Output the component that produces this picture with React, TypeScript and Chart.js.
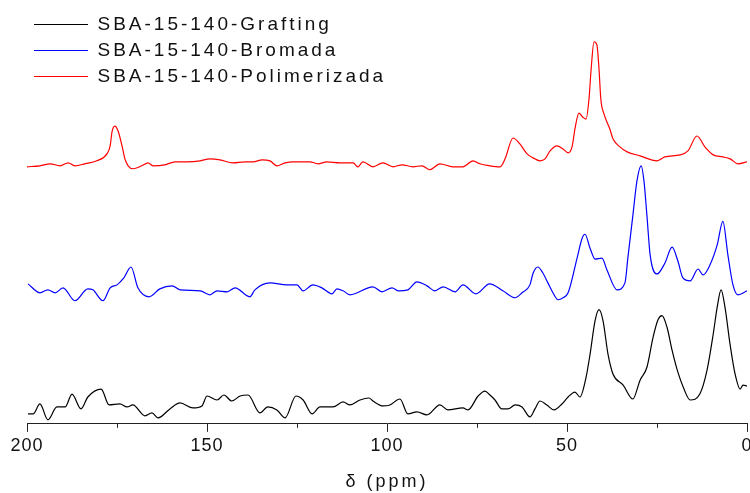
import { useEffect, useRef } from "react";
import { Chart, registerables } from "chart.js";

Chart.register(...registerables);

// 13C CP-MAS NMR spectra, stacked vertically (intensity in a.u., offset per sample)
const seriesLabels = [
  "SBA-15-140-Grafting",
  "SBA-15-140-Bromada",
  "SBA-15-140-Polimerizada",
];
const seriesColors = ["#000000", "#0000ff", "#ff0000"];

const graftingPpm = [
  199.7, 198.3, 196.4, 194.2, 191.7, 189.4, 187.5, 185.0, 183.1, 179.4, 177.2, 174.2, 172.2, 170.6,
  167.2, 165.3, 163.6, 160.3, 157.5, 153.9, 151.4, 150.0, 147.2, 145.3, 143.1, 140.8, 138.6, 135.3,
  133.1, 130.6, 128.3, 125.3, 123.3, 120.8, 118.6, 115.0, 112.2, 110.3, 107.5, 105.0, 103.9, 101.1,
  99.2, 96.4, 94.2, 91.7, 88.9, 85.3, 83.1, 78.9, 77.5, 74.7, 72.8, 71.4, 70.0, 68.1, 66.4, 64.4,
  62.5, 60.3, 58.9, 57.5, 55.6, 53.6, 51.4, 49.7, 47.8, 46.4, 44.7, 43.6, 42.2, 41.1, 40.0, 38.6,
  37.2, 34.4, 31.7, 29.7, 27.8, 26.1, 24.7, 23.6, 22.2, 20.8, 19.2, 17.5, 15.8, 13.1, 11.1, 9.4,
  8.3, 7.2, 6.1, 4.7, 3.3, 1.9, 1.1, 0,
];
const graftingIntensity = [
  10, 10, 20, 4, 17, 17, 30, 15, 27, 35, 19, 20, 17, 19,
  8, 11, 6, 15, 21, 16, 18, 28, 24, 29, 23, 28, 29, 11,
  17, 14, 6, 28, 24, 10, 17, 17, 22, 19, 24, 26, 23, 18,
  19, 25, 10, 12, 9, 19, 14, 16, 14, 28, 33, 29, 24, 15, 15, 19,
  17, 7, 15, 23, 19, 14, 20, 27, 32, 27, 47, 70, 104, 115, 104, 70,
  50, 39, 25, 44, 57, 87, 105, 109, 97, 74, 52, 35, 24, 30, 54, 90,
  117, 135, 117, 80, 50, 35, 39, 38,
];

const bromadaPpm = [
  199.7, 196.4, 194.2, 192.2, 190.0, 186.7, 183.1, 181.7, 178.9, 176.9, 175.0, 173.1, 171.1, 169.2,
  166.1, 163.1, 159.7, 157.5, 151.9, 149.2, 147.2, 144.4, 142.2, 138.1, 136.7, 132.5, 127.8, 125.0,
  123.3, 120.6, 118.1, 115.3, 113.9, 112.2, 110.3, 103.9, 101.4, 98.6, 96.9, 94.2, 91.7, 88.9,
  86.7, 84.4, 81.1, 78.9, 75.3, 71.5, 67.8, 64.4, 62.5, 60.3, 59.4, 58.1, 56.7, 55.3, 53.9, 52.5,
  51.1, 49.7, 47.2, 45.8, 45.0, 43.6, 42.2, 40.3, 38.9, 36.1, 33.9, 33.1, 31.7, 30.6, 29.4, 28.6,
  27.8, 26.9, 25.0, 22.8, 20.8, 19.2, 17.8, 15.8, 13.6, 12.2, 10.3, 8.3, 6.7, 5.3, 3.9, 2.5, 0,
];
const bromadaIntensity = [
  141, 132, 135, 132, 137, 124, 136, 135, 124, 137, 140, 147, 158, 137,
  128, 136, 139, 135, 134, 130, 134, 133, 137, 128, 135, 142, 140, 140,
  134, 140, 137, 131, 136, 134, 130, 138, 133, 137, 134, 135, 143, 139,
  134, 138, 133, 140, 131, 141, 134, 127, 132, 140, 152, 158, 152, 142, 132, 125,
  127, 132, 167, 187, 191, 177, 166, 167, 155, 135, 142, 167, 210, 244, 260, 244,
  210, 170, 151, 162, 178, 164, 147, 144, 156, 150, 160, 180, 204, 170, 140, 130, 134,
];

const polimerizadaPpm = [
  200.0, 196.4, 193.6, 190.8, 188.6, 186.7, 183.9, 180.6, 177.8, 176.9, 176.4, 175.6, 174.7, 173.6,
  172.8, 171.9, 170.6, 168.1, 166.4, 165.0, 161.7, 158.9, 155.6, 151.9, 149.2, 146.4, 142.8, 139.4,
  137.2, 134.7, 132.5, 130.6, 128.3, 126.1, 121.4, 119.2, 116.7, 113.1, 109.4, 108.1, 106.7, 103.9,
  101.1, 98.3, 95.8, 92.8, 90.3, 88.1, 85.3, 81.7, 78.9, 76.1, 74.2, 71.4, 68.6, 67.2, 65.0, 63.1,
  61.1, 58.9, 57.5, 56.1, 54.7, 52.8, 51.1, 49.7, 48.6, 47.8, 46.7, 45.6, 44.7, 43.9, 43.3, 42.5,
  41.7, 41.1, 40.6, 39.7, 38.1, 37.2, 35.3, 33.3, 29.7, 25.0, 22.8, 18.6, 16.4, 13.9, 11.7, 9.4,
  6.7, 4.7, 2.5, 0,
];
const polimerizadaIntensity = [
  259, 260, 262, 260, 263, 260, 262, 265, 272, 280, 294, 300, 295, 280,
  267, 260, 257, 260, 263, 260, 261, 264, 264, 265, 267, 266, 263, 264,
  264, 266, 265, 260, 263, 264, 264, 262, 264, 263, 263, 259, 264, 259,
  263, 259, 261, 259, 260, 256, 262, 259, 259, 265, 262, 260, 259, 267, 288, 282,
  272, 267, 265, 267, 275, 280, 277, 273, 279, 297, 313, 309, 307, 327, 357, 385,
  382, 357, 327, 312, 297, 287, 279, 274, 270, 265, 269, 271, 275, 290, 279, 271,
  269, 267, 262, 264,
];

// x-axis ticks
const majorTicks = [200, 150, 100, 50, 0];
const minorTicks = [175, 125, 75, 25];

const toPoints = (ppm: number[], intensity: number[]) =>
  ppm.map((x, i) => ({ x, y: intensity[i] }));

const AXIS_COLOR = "#222222";
const FONT_FAMILY = "'Liberation Sans', Arial, sans-serif";

// Spaced-out lettering for the legend/title, minor ticks on the x-axis
const axisDecor = {
  id: "axisDecor",
  beforeDraw(chart: Chart) {
    (chart.ctx as any).letterSpacing = "3px";
  },
  beforeDatasetsDraw(chart: Chart) {
    (chart.ctx as any).letterSpacing = "0px";
  },
  afterDatasetsDraw(chart: Chart) {
    (chart.ctx as any).letterSpacing = "1px";
  },
  afterDraw(chart: Chart) {
    const ctx = chart.ctx;
    const xScale = chart.scales.x;
    ctx.save();
    ctx.strokeStyle = AXIS_COLOR;
    ctx.lineWidth = 1;
    ctx.beginPath();
    for (const v of minorTicks) {
      const px = Math.round(xScale.getPixelForValue(v)) + 0.5;
      ctx.moveTo(px, xScale.top);
      ctx.lineTo(px, xScale.top + 4);
    }
    ctx.stroke();
    ctx.restore();
    (ctx as any).letterSpacing = "0px";
  },
};

export default function App() {
  const canvasRef = useRef<HTMLCanvasElement>(null);

  useEffect(() => {
    const canvas = canvasRef.current;
    if (!canvas) return;
    const series = [
      toPoints(graftingPpm, graftingIntensity),
      toPoints(bromadaPpm, bromadaIntensity),
      toPoints(polimerizadaPpm, polimerizadaIntensity),
    ];
    const chart = new Chart(canvas, {
      type: "line",
      data: {
        datasets: series.map((data, i) => ({
          label: seriesLabels[i],
          data,
          borderColor: seriesColors[i],
          backgroundColor: seriesColors[i],
          borderWidth: 1.2,
          pointRadius: 0,
          cubicInterpolationMode: "monotone" as const,
          fill: false,
        })),
      },
      options: {
        animation: false,
        responsive: false,
        devicePixelRatio: 1,
        parsing: false,
        layout: { padding: { left: 27, right: 13, top: 8, bottom: 0 } },
        scales: {
          x: {
            type: "linear",
            min: 0,
            max: 200,
            reverse: true,
            afterBuildTicks: (scale: any) => {
              scale.ticks = majorTicks.map((value) => ({ value }));
            },
            ticks: {
              z: 1,
              color: "#111111",
              padding: 3,
              maxRotation: 0,
              font: { family: FONT_FAMILY, size: 18 },
            },
            grid: {
              drawOnChartArea: false,
              drawTicks: true,
              tickLength: 8,
              color: AXIS_COLOR,
              lineWidth: 1,
            },
            border: { display: true, color: AXIS_COLOR, width: 1 },
            title: {
              display: true,
              text: "δ (ppm)",
              color: "#111111",
              font: { family: FONT_FAMILY, size: 18 },
              padding: { top: 12, bottom: 0 },
            },
          },
          y: {
            display: false,
            min: 0,
            max: 419,
          },
        },
        plugins: {
          legend: {
            display: true,
            position: "chartArea" as any,
            align: "start",
            // empty title only reserves a small gap above the entries
            title: {
              display: true,
              text: "",
              font: { family: FONT_FAMILY, size: 6, lineHeight: 1 },
              padding: 1,
            },
            labels: {
              boxWidth: 54,
              boxHeight: 0,
              padding: 7,
              color: "#111111",
              font: { family: FONT_FAMILY, size: 19 },
            },
          },
          tooltip: { enabled: false },
        },
      },
      plugins: [axisDecor],
    });
    return () => chart.destroy();
  }, []);

  return (
    <div
      style={{
        position: "fixed",
        left: 0,
        top: 0,
        width: 750,
        height: 493,
        overflow: "hidden",
        background: "#ffffff",
      }}
    >
      <canvas
        ref={canvasRef}
        width={760}
        height={493}
        style={{ display: "block", width: 760, height: 493 }}
      />
    </div>
  );
}
